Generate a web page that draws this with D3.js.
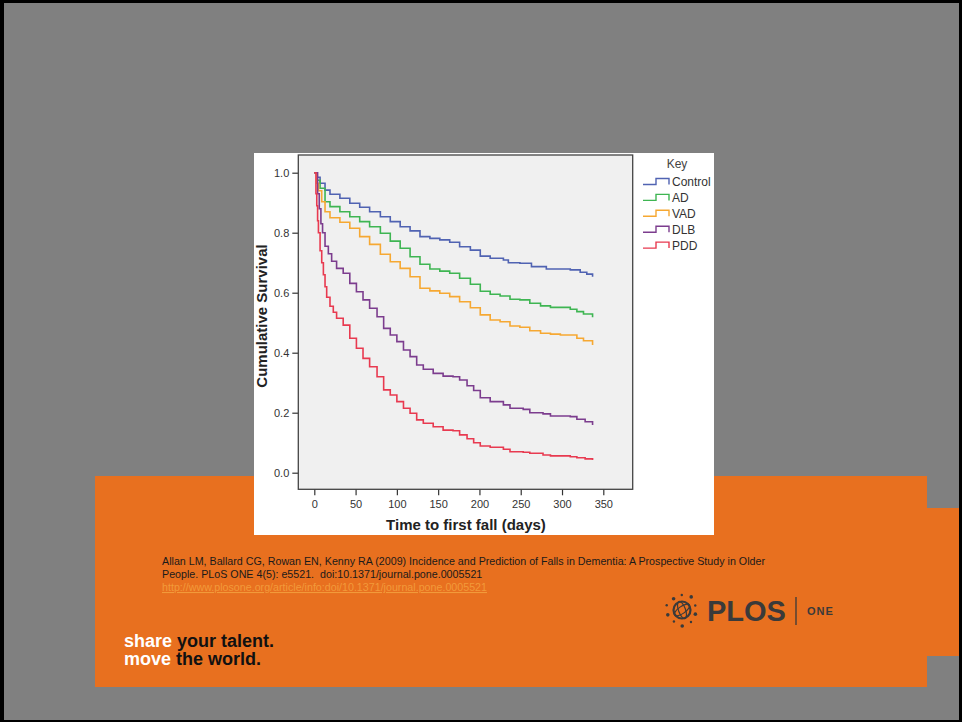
<!DOCTYPE html>
<html>
<head>
<meta charset="utf-8">
<script src="https://cdn.jsdelivr.net/npm/d3@7"></script>
<style>
  body { margin: 0; background: #000; }
  svg { display: block; font-family: "Liberation Sans", Arial, sans-serif; }
</style>
</head>
<body>
<script>
// survival readings [day, cumulative survival] per group
const control = [[0,1],[3,0.985],[7,0.965],[13,0.942],[19,0.928],[31,0.915],[43,0.898],[55,0.885],[67,0.87],[80,0.853],[92,0.837],[104,0.82],[116,0.806],[128,0.787],[140,0.781],[152,0.776],[164,0.768],[176,0.753],[189,0.742],[201,0.722],[213,0.715],[229,0.709],[235,0.7],[249,0.698],[263,0.687],[281,0.679],[310,0.676],[322,0.668],[330,0.662],[337,0.653]];
const ad = [[0,1],[3,0.975],[7,0.948],[13,0.903],[19,0.887],[31,0.87],[43,0.853],[55,0.837],[67,0.82],[80,0.798],[92,0.772],[104,0.748],[116,0.72],[128,0.695],[140,0.679],[152,0.672],[164,0.665],[176,0.648],[189,0.628],[201,0.605],[213,0.595],[225,0.589],[237,0.578],[249,0.576],[261,0.565],[274,0.556],[286,0.551],[310,0.545],[318,0.537],[326,0.529],[337,0.518]];
const vad = [[0,1],[3,0.965],[5,0.94],[9,0.903],[13,0.87],[19,0.85],[31,0.835],[43,0.815],[55,0.787],[67,0.761],[80,0.728],[92,0.703],[104,0.681],[116,0.653],[128,0.615],[140,0.606],[152,0.598],[164,0.587],[176,0.57],[189,0.55],[201,0.526],[213,0.509],[225,0.503],[237,0.489],[249,0.485],[261,0.473],[274,0.465],[286,0.462],[298,0.459],[310,0.459],[318,0.448],[326,0.44],[337,0.426]];
const dlb = [[0,1],[4,0.93],[6,0.88],[8,0.83],[10,0.8],[13,0.755],[17,0.73],[21,0.705],[27,0.681],[35,0.665],[43,0.631],[51,0.603],[59,0.576],[67,0.548],[76,0.52],[84,0.481],[92,0.459],[100,0.437],[108,0.409],[116,0.387],[124,0.359],[132,0.345],[144,0.331],[156,0.322],[168,0.32],[176,0.309],[185,0.29],[193,0.274],[201,0.25],[213,0.237],[229,0.226],[237,0.215],[253,0.211],[261,0.2],[277,0.196],[286,0.189],[310,0.187],[318,0.178],[328,0.17],[337,0.159]];
const pdd = [[0,1],[2,0.93],[3,0.89],[4,0.84],[5,0.8],[7,0.74],[9,0.7],[11,0.66],[13,0.62],[15,0.585],[19,0.555],[23,0.535],[27,0.515],[35,0.492],[43,0.448],[51,0.415],[59,0.381],[67,0.353],[76,0.32],[84,0.276],[92,0.259],[100,0.237],[108,0.215],[116,0.198],[124,0.176],[132,0.165],[144,0.153],[156,0.142],[168,0.14],[176,0.126],[185,0.113],[193,0.1],[201,0.089],[213,0.085],[229,0.078],[237,0.07],[253,0.068],[261,0.065],[277,0.059],[286,0.056],[310,0.053],[318,0.05],[328,0.046],[337,0.042]];

const groups = ["Control", "AD", "VAD", "DLB", "PDD"];
const series = [control, ad, vad, dlb, pdd];
const colors = ["#5063B2", "#3EB552", "#F6A832", "#7C3D8E", "#E83A50"];
const xTicks = [0, 50, 100, 150, 200, 250, 300, 350];
const yTicks = [0, 0.2, 0.4, 0.6, 0.8, 1.0];

const citation = [
  "Allan LM, Ballard CG, Rowan EN, Kenny RA (2009) Incidence and Prediction of Falls in Dementia: A Prospective Study in Older",
  "People. PLoS ONE 4(5): e5521.  doi:10.1371/journal.pone.0005521",
];
const link = "http://www.plosone.org/article/info:doi/10.1371/journal.pone.0005521";

// frame of the plot
const frame = { left: 298.3, top: 155, right: 632.7, bottom: 489.3 };

const svg = d3.select("body").append("svg").attr("width", 962).attr("height", 722);

// slide background
svg.append("rect").attr("width", 962).attr("height", 722).attr("fill", "#000");
svg.append("rect").attr("x", 4).attr("y", 3).attr("width", 955).attr("height", 717).attr("fill", "#808080");

// orange band
svg.append("path")
  .attr("d", "M95,476H927V508H959V656H927V687H95Z")
  .attr("fill", "#E8701F");

// white figure card
svg.append("rect").attr("x", 254).attr("y", 153).attr("width", 460).attr("height", 382).attr("fill", "#fff");

// plot area
svg.append("rect")
  .attr("x", frame.left).attr("y", frame.top)
  .attr("width", frame.right - frame.left).attr("height", frame.bottom - frame.top)
  .attr("fill", "#F0F0F0");

// scales
const x = d3.scaleLinear().domain([0, 350]).range([314.3, 603.3]);
const y = d3.scaleLinear().domain([0, 1]).range([472.7, 172.7]);

// axes
const yAxis = svg.append("g")
  .attr("transform", `translate(${frame.left},0)`)
  .call(d3.axisLeft(y).tickValues(yTicks).tickFormat(d3.format(".1f")).tickSize(6).tickPadding(3));
const xAxis = svg.append("g")
  .attr("transform", `translate(0,${frame.bottom})`)
  .call(d3.axisBottom(x).tickValues(xTicks).tickSize(6).tickPadding(5));
[xAxis, yAxis].forEach((g) => {
  g.select(".domain").remove();
  g.selectAll("line").attr("stroke", "#333").attr("stroke-width", 1.2);
  g.selectAll("text").attr("fill", "#333").style("font-size", "11px")
    .style("font-family", '"Liberation Sans", Arial, sans-serif');
});

// box around plot
svg.append("rect")
  .attr("x", frame.left).attr("y", frame.top)
  .attr("width", frame.right - frame.left).attr("height", frame.bottom - frame.top)
  .attr("fill", "none").attr("stroke", "#444").attr("stroke-width", 1.3);

// survival curves
const line = d3.line()
  .x((d) => x(d[0]))
  .y((d) => y(d[1]))
  .curve(d3.curveStepAfter);

svg.append("g").selectAll("path")
  .data(series)
  .join("path")
  .attr("d", line)
  .attr("fill", "none")
  .attr("stroke", (d, i) => colors[i])
  .attr("stroke-width", 1.6);

// axis titles
svg.append("text")
  .attr("x", 466).attr("y", 530)
  .attr("text-anchor", "middle")
  .style("font-size", "15px").style("font-weight", "bold").attr("fill", "#222")
  .text("Time to first fall (days)");
svg.append("text")
  .attr("transform", "translate(267,316) rotate(-90)")
  .attr("text-anchor", "middle")
  .style("font-size", "15px").style("font-weight", "bold").attr("fill", "#222")
  .text("Cumulative Survival");

// legend
const legend = svg.append("g");
legend.append("text")
  .attr("x", 677).attr("y", 168)
  .attr("text-anchor", "middle")
  .style("font-size", "12px").attr("fill", "#444")
  .text("Key");
const item = legend.selectAll("g.item")
  .data(groups)
  .join("g")
  .attr("class", "item")
  .attr("transform", (d, i) => `translate(0,${181.5 + i * 15.9})`);
item.append("path")
  .attr("d", "M643,3H656V-3H669V3")
  .attr("fill", "none")
  .attr("stroke", (d, i) => colors[i])
  .attr("stroke-width", 1.4);
item.append("text")
  .attr("x", 672).attr("y", 4.5)
  .style("font-size", "12px").attr("fill", "#333")
  .text((d) => d);

// citation
svg.append("g").selectAll("text")
  .data(citation)
  .join("text")
  .attr("x", 162).attr("y", (d, i) => 564.5 + i * 13.5)
  .style("font-size", "10.7px").style("white-space", "pre").attr("fill", "#1a1a1a")
  .text((d) => d);
svg.append("text")
  .attr("x", 162).attr("y", 591)
  .style("font-size", "10.7px").style("text-decoration", "underline")
  .attr("fill", "#F29A3A")
  .text(link);

// PLOS ONE logo
const logo = svg.append("g").attr("fill", "#3A3A3A").attr("stroke", "#3A3A3A");
logo.append("circle").attr("cx", 682).attr("cy", 610).attr("r", 8.5).attr("fill", "none").attr("stroke-width", 2.2);
logo.append("ellipse").attr("cx", 682).attr("cy", 610).attr("rx", 9).attr("ry", 3.5)
  .attr("transform", "rotate(-35,682,610)").attr("fill", "none").attr("stroke-width", 1.2);
logo.append("ellipse").attr("cx", 682).attr("cy", 610).attr("rx", 3.5).attr("ry", 9)
  .attr("transform", "rotate(-20,682,610)").attr("fill", "none").attr("stroke-width", 1.2);
d3.range(10).forEach((k) => {
  const a = (k / 10) * 2 * Math.PI + 0.3;
  const r = 14 + (k % 3);
  logo.append("circle")
    .attr("cx", 682 + r * Math.cos(a)).attr("cy", 610 + r * Math.sin(a))
    .attr("r", k % 2 ? 1.2 : 1.8).attr("stroke", "none");
});
logo.append("text")
  .attr("x", 707).attr("y", 620.5)
  .style("font-size", "29px").style("font-weight", "bold").attr("stroke", "none")
  .text("PLOS");
logo.append("line").attr("x1", 796).attr("x2", 796).attr("y1", 597).attr("y2", 625).attr("stroke-width", 1.3);
logo.append("text")
  .attr("x", 807).attr("y", 614.5)
  .style("font-size", "11px").style("font-weight", "bold").style("letter-spacing", "1px").attr("stroke", "none")
  .text("ONE");

// slogan
const slogan = svg.append("g").style("font-size", "18px").style("font-weight", "bold");
const l1 = slogan.append("text").attr("x", 124).attr("y", 646.7);
l1.append("tspan").attr("fill", "#fff").text("share ");
l1.append("tspan").attr("fill", "#111").text("your talent.");
const l2 = slogan.append("text").attr("x", 124).attr("y", 665);
l2.append("tspan").attr("fill", "#fff").text("move ");
l2.append("tspan").attr("fill", "#111").text("the world.");
</script>
</body>
</html>
